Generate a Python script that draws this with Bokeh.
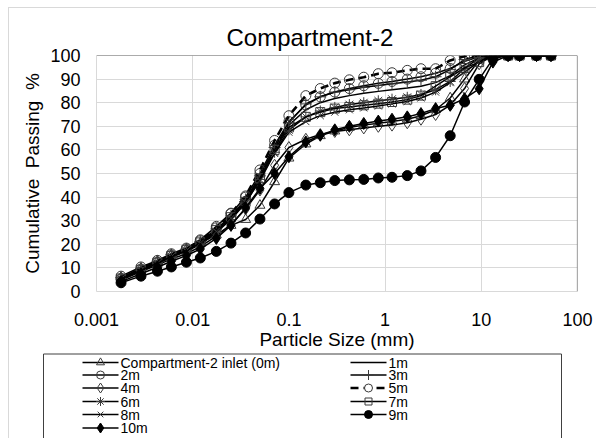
from bokeh.plotting import figure
from bokeh.models import Span, FixedTicker, Range1d
from bokeh.layouts import column
from bokeh.embed import file_html
from bokeh.resources import INLINE
from bokeh.core.properties import value

# ---------------- data ----------------
sizes = [0.0018, 0.0029, 0.0043, 0.006, 0.0086, 0.012, 0.0176, 0.025, 0.0355, 0.05,
         0.071, 0.1, 0.15, 0.212, 0.3, 0.425, 0.6, 0.85, 1.18, 1.7,
         2.36, 3.35, 4.75, 6.7, 9.5, 13.2, 19, 25, 37.5, 53]

inlet = [6.0, 9.8, 12.8, 15.5, 17.8, 20.5, 24.0, 28.0, 30.5, 36.5,
         46.5, 56.5, 62.5, 66.0, 68.0, 69.5, 70.5, 71.3, 72.0, 73.0,
         74.5, 77.0, 82.0, 90.0, 98.0, 100, 100, 100, 100, 100]
m1 = [5.2, 9.0, 12.0, 14.8, 17.2, 20.5, 25.8, 31.5, 38.5, 48.5,
      60.5, 70.5, 77.0, 80.0, 81.8, 83.0, 84.0, 84.8, 85.5, 86.2,
      87.0, 88.5, 91.5, 96.0, 99.0, 100, 100, 100, 100, 100]
m2 = [6.5, 10.4, 13.2, 16.0, 18.4, 21.9, 27.6, 33.2, 40.0, 50.0,
      62.0, 72.0, 79.0, 82.5, 84.5, 86.0, 87.2, 88.2, 89.0, 90.0,
      91.0, 92.5, 94.5, 97.5, 99.5, 100, 100, 100, 100, 100]
m3 = [5.8, 9.8, 12.8, 15.6, 18.0, 21.2, 26.5, 32.0, 39.0, 49.0,
      61.0, 71.5, 79.5, 82.5, 84.5, 85.5, 86.5, 87.3, 88.0, 88.8,
      89.5, 91.0, 94.0, 98.3, 100, 100, 100, 100, 100, 100]
m4 = [4.8, 8.5, 11.2, 13.8, 16.0, 19.0, 23.5, 28.5, 35.0, 43.0,
      53.5, 61.0, 64.5, 66.5, 67.8, 68.5, 69.3, 70.0, 70.5, 71.5,
      73.0, 75.0, 79.0, 86.0, 96.5, 100, 100, 100, 100, 100]
m5 = [5.5, 9.5, 12.5, 15.5, 18.0, 21.5, 27.0, 33.0, 40.5, 51.5,
      64.0, 74.5, 83.0, 86.0, 88.3, 89.7, 90.8, 92.3, 92.7, 93.7,
      94.4, 94.4, 97.9, 99.7, 100, 100, 100, 100, 100, 100]
m6 = [5.0, 8.8, 11.8, 14.5, 17.0, 20.0, 25.0, 30.5, 37.5, 47.5,
      59.0, 68.5, 74.0, 76.5, 78.0, 79.2, 80.0, 80.8, 81.5, 82.3,
      83.5, 85.5, 89.0, 94.5, 99.0, 100, 100, 100, 100, 100]
m7 = [5.5, 9.2, 12.2, 15.0, 17.5, 20.8, 26.0, 31.5, 38.0, 48.0,
      60.0, 69.5, 74.0, 76.0, 77.5, 78.2, 78.9, 79.6, 80.3, 81.3,
      83.0, 87.0, 91.0, 94.7, 97.2, 100, 100, 100, 100, 100]
m8 = [5.3, 9.0, 12.0, 14.8, 17.3, 20.5, 25.5, 31.0, 37.8, 47.0,
      58.5, 67.5, 72.0, 74.5, 76.0, 77.0, 77.8, 78.6, 79.5, 80.5,
      82.0, 84.5, 88.5, 93.0, 97.5, 100, 100, 100, 100, 100]
m9 = [3.7, 6.5, 8.6, 10.4, 12.4, 14.2, 17.0, 20.5, 24.8, 30.7,
      37.1, 41.9, 45.1, 46.1, 47.0, 47.3, 47.5, 48.1, 48.4, 49.1,
      51.1, 56.8, 66.0, 80.3, 89.9, 98.6, 100, 100, 100, 100]
m10 = [4.2, 7.5, 10.3, 12.8, 15.2, 18.0, 22.5, 28.0, 35.5, 43.7,
       50.0, 57.1, 63.4, 66.2, 68.5, 70.0, 71.2, 72.2, 73.0, 74.0,
       75.4, 77.5, 78.9, 81.7, 85.9, 97.2, 100, 100, 100, 100]

series_names = ["Compartment-2 inlet (0m)", "1m", "2m", "3m", "4m", "5m",
                "6m", "7m", "8m", "9m", "10m"]
series_values = [inlet, m1, m2, m3, m4, m5, m6, m7, m8, m9, m10]

x_ticks = [0.001, 0.01, 0.1, 1, 10, 100]
x_tick_labels = ["0.001", "0.01", "0.1", "1", "10", "100"]
y_ticks = [0, 10, 20, 30, 40, 50, 60, 70, 80, 90, 100]

title_text = "Compartment-2"
x_title = "Particle Size (mm)"
y_title = "Cumulative\u00a0 Passing\u00a0 %"

# ---------------- styles ----------------
FONT = "Liberation Sans"
MK_GRAY = "#3a3a3a"
styles = {
    "Compartment-2 inlet (0m)": dict(marker="triangle", size=10, fill=None, dash="solid", lw=1.5),
    "1m": dict(marker=None, size=0, fill=None, dash="solid", lw=1.5),
    "2m": dict(marker="circle", size=10, fill=None, dash="solid", lw=1.5),
    "3m": dict(marker="cross", size=12, fill=None, dash="solid", lw=1.5),
    "4m": dict(marker="diamond", size=12, fill=None, dash="solid", lw=1.5),
    "5m": dict(marker="circle", size=10, fill=None, dash="8 5", lw=2.6),
    "6m": dict(marker="asterisk", size=11, fill=None, dash="solid", lw=1.5),
    "7m": dict(marker="square", size=9, fill=None, dash="solid", lw=1.5),
    "8m": dict(marker="x", size=10, fill=None, dash="solid", lw=1.5),
    "9m": dict(marker="circle", size=10, fill="black", dash="solid", lw=1.5),
    "10m": dict(marker="diamond", size=12, fill="black", dash="solid", lw=1.5),
}

W = 587
H1 = 344
p = figure(width=W, height=H1, x_axis_type="log", output_backend="svg",
           toolbar_location=None, x_range=Range1d(0.001, 100), y_range=Range1d(0, 100),
           min_border_left=87, min_border_right=19, min_border_top=47, min_border_bottom=H1 - 284)
p.outline_line_color = None
p.background_fill_color = "white"
p.border_fill_color = "white"

p.title.text = title_text
p.title.text_font = FONT
p.title.text_font_size = "24px"
p.title.text_font_style = "normal"
p.title.text_color = "black"
p.title.align = "left"
p.title.offset = 130

p.xaxis.ticker = FixedTicker(ticks=x_ticks)
p.xaxis.major_label_overrides = {t: l for t, l in zip(x_ticks, x_tick_labels)}
p.yaxis.ticker = FixedTicker(ticks=y_ticks)
for ax in (p.xaxis[0], p.yaxis[0]):
    ax.axis_line_color = "#d9d9d9"
    ax.major_tick_line_color = None
    ax.minor_tick_line_color = None
    ax.major_label_text_font = FONT
    ax.major_label_text_font_size = "18px"
    ax.major_label_text_color = "black"
    ax.axis_label_text_font = FONT
    ax.axis_label_text_font_size = "19px"
    ax.axis_label_text_font_style = "normal"
    ax.axis_label_text_color = "black"
p.xaxis.axis_label = x_title
p.yaxis.axis_label = y_title
p.xaxis.major_label_standoff = 15
p.yaxis.major_label_standoff = 10
p.xaxis.axis_label_standoff = 0
p.yaxis.axis_label_standoff = 4

p.xgrid.ticker = FixedTicker(ticks=x_ticks)
p.ygrid.ticker = FixedTicker(ticks=y_ticks)
p.xgrid.grid_line_color = "#d9d9d9"
p.ygrid.grid_line_color = "#d9d9d9"

p.add_layout(Span(location=100, dimension="width", line_color="#595959", line_width=1.2))
p.add_layout(Span(location=100, dimension="height", line_color="#595959", line_width=1.2))

for name, vals in zip(series_names, series_values):
    st = styles[name]
    p.line(sizes, vals, line_color="black", line_width=st["lw"], line_dash=st["dash"])
    if st["marker"]:
        if st["fill"]:
            p.scatter(sizes, vals, marker=st["marker"], size=st["size"],
                      fill_color=st["fill"], line_color="black", line_width=1)
        else:
            p.scatter(sizes, vals, marker=st["marker"], size=st["size"],
                      fill_alpha=0, line_color=MK_GRAY, line_width=1)

# ---------------- legend panel ----------------
H2 = 438 - 8 - H1
leg = figure(width=W, height=H2, output_backend="svg", toolbar_location=None,
             x_range=Range1d(0, W), y_range=Range1d(H2, 0),
             min_border=0, x_axis_location=None, y_axis_location=None)
leg.outline_line_color = None
leg.xgrid.visible = False
leg.ygrid.visible = False
leg.background_fill_color = "white"
leg.border_fill_color = "white"

leg.quad(left=[34], right=[552], top=[1.5], bottom=[H2 + 20], fill_alpha=0,
         line_color="#404040", line_width=1)

row_y = [10, 22.5, 35.5, 49, 62, 75.5]
col_x0 = [73, 341]
seg = 36
for i, name in enumerate(series_names):
    r, c = divmod(i, 2)
    y = row_y[r]
    x0 = col_x0[c]
    st = styles[name]
    leg.line([x0, x0 + seg], [y, y], line_color="black", line_width=st["lw"],
             line_dash=st["dash"])
    if st["marker"]:
        sz = st["size"] - 2
        if st["fill"]:
            leg.scatter([x0 + seg / 2], [y], marker=st["marker"], size=sz,
                        fill_color=st["fill"], line_color="black", line_width=1)
        else:
            leg.scatter([x0 + seg / 2], [y], marker=st["marker"], size=sz,
                        fill_color="white" if name == "5m" else None,
                        fill_alpha=1 if name == "5m" else 0,
                        line_color=MK_GRAY, line_width=1)
    leg.text([x0 + seg + 2], [y], text=[name], text_font=value(FONT),
             text_font_size="14px", text_baseline="middle", text_align="left",
             text_color="black")

top = column(p, margin=(7, 0, 0, 8),
             styles={"border-left": "1px solid #d9d9d9", "border-top": "1px solid #d9d9d9"})
bottom = column(leg, margin=(0, 0, 0, 8), styles={"border-left": "1px solid #d9d9d9"})

open("out.html", "w").write(file_html([top, bottom], INLINE))
